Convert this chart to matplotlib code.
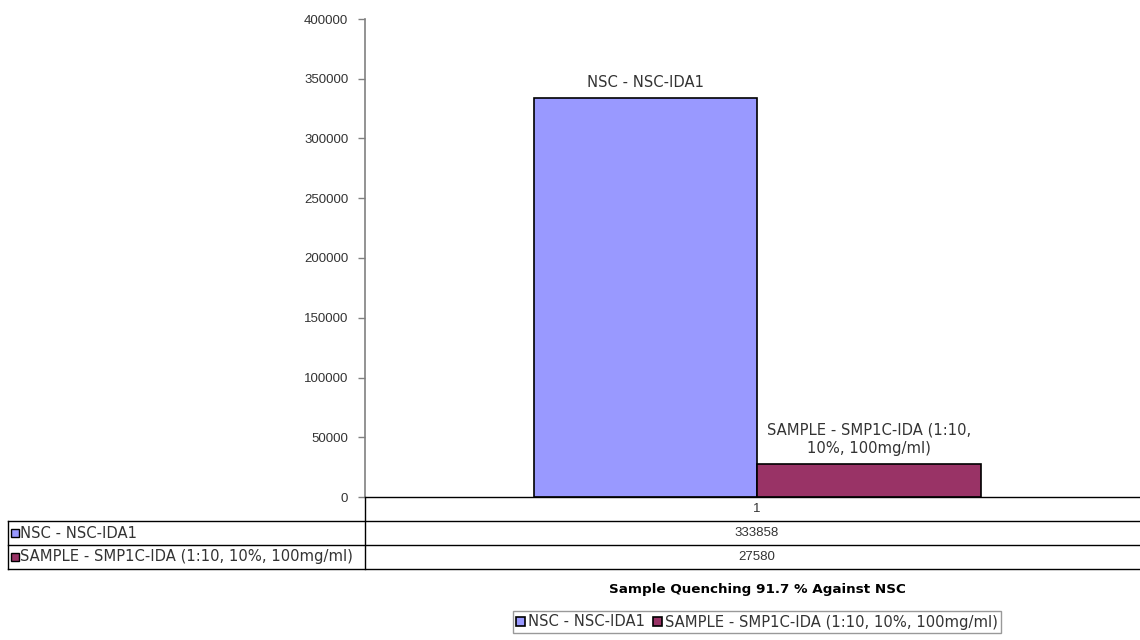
import numpy as np
import matplotlib.pyplot as plt
from matplotlib.lines import Line2D
from matplotlib.patches import Rectangle
import matplotlib.transforms as mtransforms

plt.rcParams['font.family'] = ['DejaVu Sans']

# data
categories = ['1']
series_names = ['NSC - NSC-IDA1', 'SAMPLE - SMP1C-IDA (1:10, 10%, 100mg/ml)']
bar_labels = ['NSC - NSC-IDA1', 'SAMPLE - SMP1C-IDA (1:10,\n10%, 100mg/ml)']
values = [333858, 27580]
colors = ['#9999FF', '#993366']
yticks = [0, 50000, 100000, 150000, 200000, 250000, 300000, 350000, 400000]
title = 'Sample Quenching 91.7 % Against NSC'

W, H = 1140, 640
fig = plt.figure(figsize=(W / 100, H / 100), dpi=100)
ax = fig.add_axes([365 / W, 1 - 497 / H, 775 / W, 478 / H])

txt_col = '#333333'
num_font = 'Liberation Sans'
fs = 9.5     # numbers
fs_lab = 10.6  # text labels
bw = 223.5 / 775
x0 = np.arange(len(categories))
bars = []
for i, (name, v, c) in enumerate(zip(series_names, values, colors)):
    off = (i - (len(values) - 1) / 2) * bw
    b = ax.bar(x0 + off, [v], width=bw, color=c, edgecolor='black', linewidth=1.2,
               label=name)
    bars.append(b)
    ax.text(x0[0] + off, v + 7000, bar_labels[i], ha='center', va='bottom',
            fontsize=fs_lab, color=txt_col, linespacing=1.3)

ax.set_xlim(-392 / 775, 383 / 775)
ax.set_ylim(0, 400000)
ax.set_yticks(yticks)
ax.set_yticklabels([str(t) for t in yticks], fontsize=fs, color=txt_col,
                   family=num_font)
ax.tick_params(axis='y', direction='out', length=5, width=1, color='#808080', pad=7)
ax.set_xticks([])
for s in ['top', 'right']:
    ax.spines[s].set_visible(False)
ax.spines['left'].set_color('#808080')
ax.spines['left'].set_linewidth(1.2)
ax.spines['bottom'].set_color('black')
ax.spines['bottom'].set_linewidth(1)

# data table under the axis
row_h = 24 / 478
left = (8 - 365) / 775
trans = mtransforms.blended_transform_factory(ax.transData, ax.transAxes)
rows = [categories] + [[str(v)] for v in values]
for r, row in enumerate(rows):
    yc = -(r + 0.5) * row_h
    for j, cell in enumerate(row):
        ax.text(x0[j], yc, cell, transform=trans, ha='center', va='center',
                fontsize=fs, color=txt_col, family=num_font, clip_on=False)
    ybot = -(r + 1) * row_h
    ax.add_line(Line2D([left, 1], [ybot, ybot], transform=ax.transAxes,
                       color='black', lw=1, clip_on=False))
    if r > 0:
        ax.add_patch(Rectangle((left + 3 / 775, yc - 4 / 478), 8 / 775, 8 / 478,
                               transform=ax.transAxes, facecolor=colors[r - 1],
                               edgecolor='black', lw=1, clip_on=False))
        ax.text(left + 12 / 775, yc, series_names[r - 1], transform=ax.transAxes,
                ha='left', va='center', fontsize=fs_lab, color=txt_col, clip_on=False)
ax.add_line(Line2D([left, left], [-row_h, -len(rows) * row_h], transform=ax.transAxes,
                   color='black', lw=1, clip_on=False))
ax.add_line(Line2D([0, 0], [0, -len(rows) * row_h], transform=ax.transAxes,
                   color='black', lw=1, clip_on=False))

fig.text(757 / W, 1 - 589 / H, title, ha='center', va='center', fontsize=9.7,
         fontweight='bold', color='black')

leg = fig.legend(handles=[b[0] for b in bars], labels=series_names, ncol=2,
                 loc='center', bbox_to_anchor=(757 / W, 1 - 622 / H), fontsize=fs_lab,
                 frameon=True, fancybox=False, edgecolor='#808080',
                 handlelength=0.6, handleheight=0.6, handletextpad=0.2,
                 columnspacing=0.6, borderpad=0.22, labelcolor=txt_col)
leg.get_frame().set_linewidth(1)

fig.savefig('out.png', dpi=100)
